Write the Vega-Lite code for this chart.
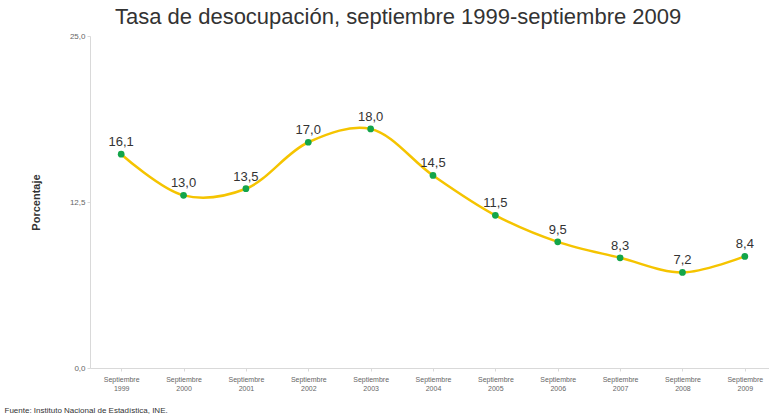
{
  "$schema": "https://vega.github.io/schema/vega-lite/v6.json",
  "autosize": "none",
  "width": 686,
  "height": 332,
  "padding": {"left": 90, "top": 36, "right": 0, "bottom": 48},
  "background": "white",
  "config": {
    "view": {"stroke": null},
    "font": "Liberation Sans",
    "locale": {"number": {"decimal": ",", "thousands": ".", "grouping": [3], "currency": ["", " €"]}}
  },
  "title": {
    "text": "Tasa de desocupación, septiembre 1999-septiembre 2009",
    "anchor": "start",
    "frame": "group",
    "dx": 25,
    "offset": 3,
    "fontSize": 22,
    "fontWeight": "normal",
    "color": "#333333",
    "font": "Liberation Sans"
  },
  "data": {
    "values": [
      {"year": "1999", "value": 16.1},
      {"year": "2000", "value": 13.0},
      {"year": "2001", "value": 13.5},
      {"year": "2002", "value": 17.0},
      {"year": "2003", "value": 18.0},
      {"year": "2004", "value": 14.5},
      {"year": "2005", "value": 11.5},
      {"year": "2006", "value": 9.5},
      {"year": "2007", "value": 8.3},
      {"year": "2008", "value": 7.2},
      {"year": "2009", "value": 8.4}
    ]
  },
  "encoding": {
    "x": {
      "field": "year",
      "type": "ordinal",
      "sort": null,
      "scale": {"paddingInner": 0, "paddingOuter": 0},
      "axis": {
        "title": "Fuente: Instituto Nacional de Estadística, INE.",
        "titleFontSize": 8,
        "titleFontWeight": "normal",
        "titleColor": "#333333",
        "titleAnchor": "start",
        "titleAlign": "left",
        "titleX": -86,
        "titleY": 38,
        "labelExpr": "['Septiembre', datum.value]",
        "labelAngle": 0,
        "labelFontSize": 7,
        "labelColor": "#666666",
        "labelPadding": 4,
        "domainColor": "#d9d9d9",
        "tickColor": "#d9d9d9",
        "tickSize": 3,
        "bandPosition": 0
      }
    },
    "y": {
      "field": "value",
      "type": "quantitative",
      "scale": {"domain": [0, 25]},
      "axis": {
        "title": "Porcentaje",
        "titleFontSize": 11,
        "titleFontWeight": "bold",
        "titleColor": "#333333",
        "titlePadding": 28,
        "values": [0, 12.5, 25],
        "format": ".1f",
        "labelFontSize": 8,
        "labelColor": "#666666",
        "grid": false,
        "domainColor": "#d9d9d9",
        "tickColor": "#d9d9d9",
        "tickSize": 3
      }
    }
  },
  "layer": [
    {
      "mark": {"type": "line", "interpolate": "catmull-rom", "color": "#F5C400", "strokeWidth": 2.5}
    },
    {
      "mark": {"type": "point", "filled": true, "opacity": 1, "size": 45, "color": "#13A54A"}
    },
    {
      "mark": {"type": "text", "dy": -12, "fontSize": 13, "color": "#333333"},
      "encoding": {
        "text": {"field": "value", "type": "quantitative", "format": ".1f"}
      }
    }
  ]
}
